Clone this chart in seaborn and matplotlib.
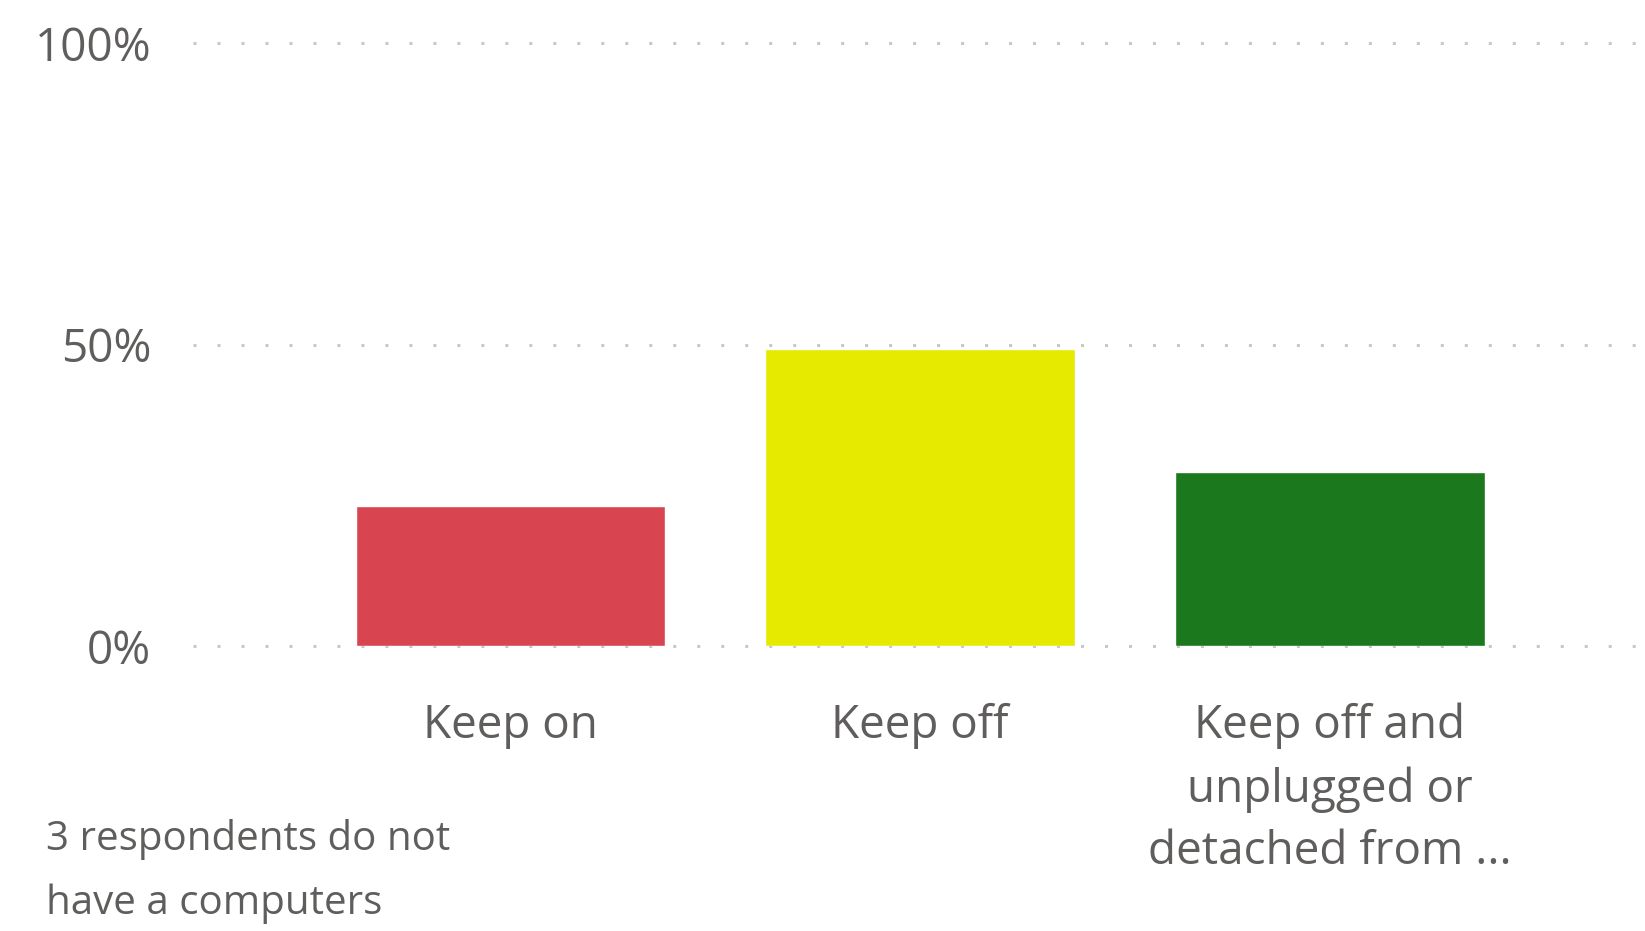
import matplotlib
matplotlib.use("Agg")
import matplotlib.pyplot as plt
import seaborn as sns
import pandas as pd

# Data
categories = ["Keep on", "Keep off", "Keep off and\nunplugged or\ndetached from ..."]
shares = [0.232, 0.493, 0.288]
bar_colors = ["#D84550", "#E6E900", "#1B781C"]
y_ticks = [0, 0.5, 1.0]
y_tick_labels = ["0%", "50%", "100%"]
note = "3 respondents do not\nhave a computers"

sns.set_theme(style="white")
plt.rcParams['font.family'] = ['Open Sans', 'DejaVu Sans']
text_gray = "#605E5C"

df = pd.DataFrame({"Answer": categories, "Share": shares})

fig = plt.figure(figsize=(16.45, 9.31), dpi=100)
ax = fig.add_axes([0.1173, 0.3061, 0.878, 0.6477])

sns.barplot(data=df, x="Answer", y="Share", hue="Answer", palette=bar_colors,
            width=0.756, legend=False, saturation=1, ax=ax, zorder=3)

ax.set_xlim(-0.775, 2.75)
ax.set_ylim(0, 1)

# dotted gridlines
for yv in y_ticks:
    ax.axhline(yv, color="#C8C8C8", lw=2.2, linestyle=(0, (1, 6.85)),
               clip_on=False, zorder=1)

for s in ax.spines.values():
    s.set_visible(False)

ax.set_yticks(y_ticks)
ax.set_yticklabels(y_tick_labels, fontsize=33, color=text_gray)
ax.set_xticks(range(len(categories)))
ax.set_xticklabels(categories, fontsize=33, color=text_gray, linespacing=1.47)
ax.tick_params(axis="y", length=0, pad=30)
ax.tick_params(axis="x", length=0, pad=41)
ax.set_xlabel("")
ax.set_ylabel("")

fig.text(0.028, 0.0636, note, fontsize=29, color=text_gray,
         ha="left", va="center", linespacing=1.77)

fig.savefig("out.png", dpi=100)
plt.close()
